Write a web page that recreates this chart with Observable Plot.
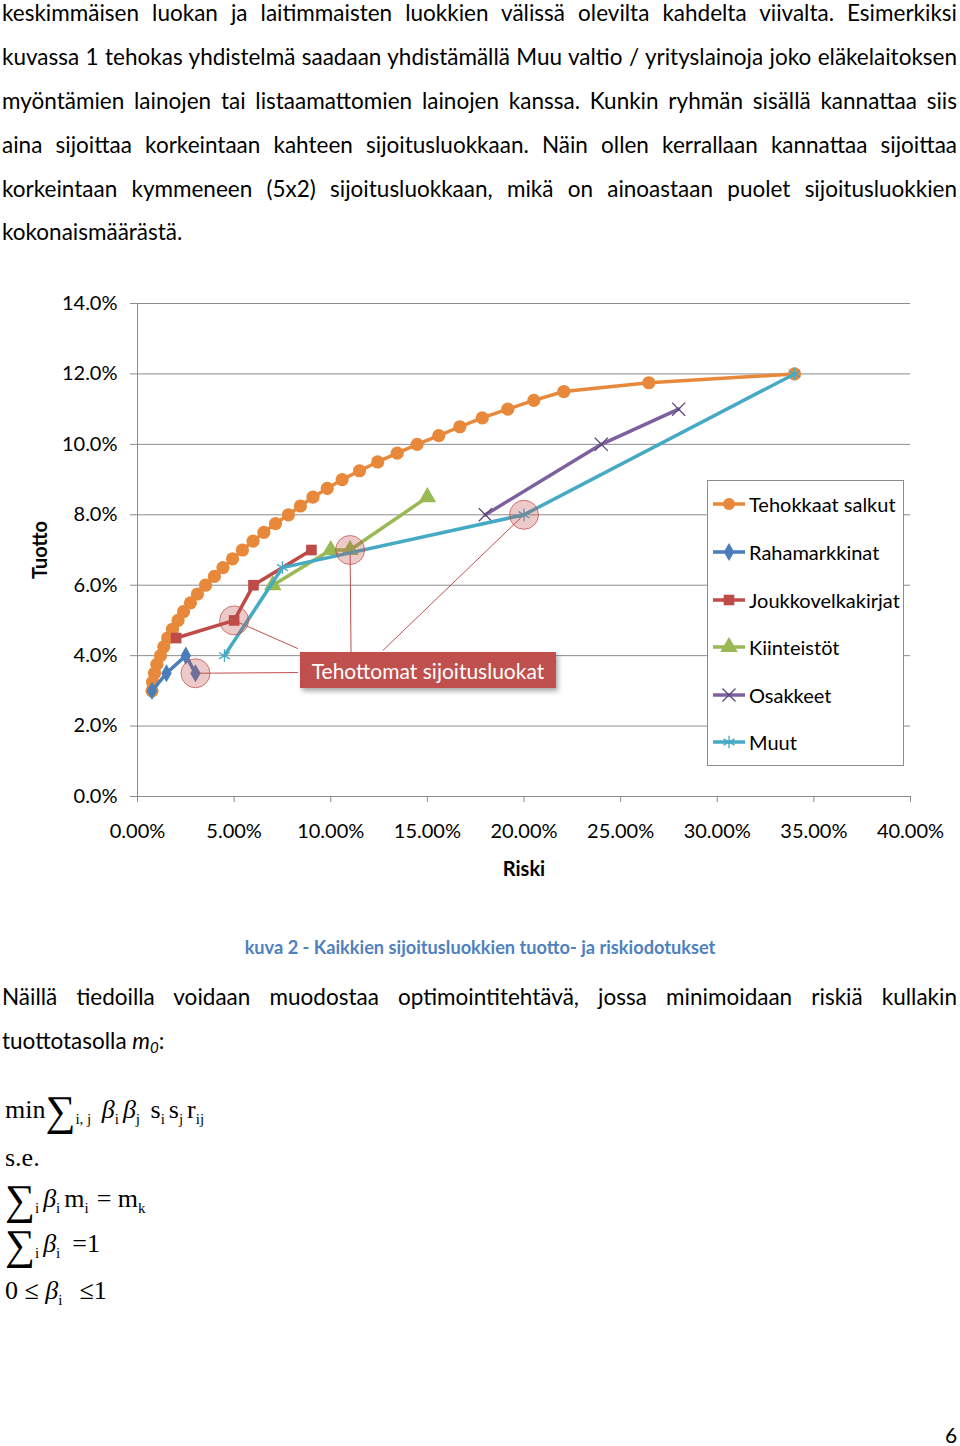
<!DOCTYPE html>
<html><head><meta charset="utf-8">
<script src="https://cdn.jsdelivr.net/npm/d3@7"></script>
<script src="https://cdn.jsdelivr.net/npm/@observablehq/plot@0.6"></script>
<style>
html,body{margin:0;padding:0;background:#fff;}
#page{position:relative;width:960px;height:1446px;overflow:hidden;font-family:Lato,sans-serif;color:#000;}
.j{position:absolute;left:2px;width:955px;text-align:justify;text-align-last:justify;line-height:1.2;font-size:22.5px;}
.l{position:absolute;left:2px;line-height:1.2;font-size:22.5px;white-space:nowrap;}
#chart{position:absolute;left:0;top:283px;}
#legend{position:absolute;left:707px;top:480px;width:195px;height:284px;border:1px solid #8c8c8c;background:#fff;}
.lg{position:absolute;left:4px;height:30px;display:flex;align-items:center;font-size:20px;white-space:nowrap;}
.lg svg{margin-right:3px;}
#callout{position:absolute;left:300px;top:652px;width:256px;height:36px;background:#C0504D;color:#fff;font-size:21px;display:flex;align-items:center;justify-content:center;box-shadow:2px 3px 5px rgba(0,0,0,0.35);}
#caption{position:absolute;left:0;width:960px;text-align:center;font-weight:bold;color:#4F81BD;font-size:18.2px;line-height:1.2;}
.f{position:absolute;left:5px;font-family:"Liberation Serif",serif;font-size:26px;line-height:1.2;white-space:nowrap;}
.f .sig{font-size:42px;position:relative;top:7px;line-height:0;}
.f sub{font-size:15px;vertical-align:-6px;line-height:0;margin-right:4px;}
.f i{font-style:italic;}
.f .gap{display:inline-block;}
#pnum{position:absolute;left:945px;font-size:21px;line-height:1.2;}
</style>
</head><body>
<div id="page"></div>
<script>
// ---------- data ----------
const xTicks = [0, 5, 10, 15, 20, 25, 30, 35, 40];
const yTicks = [0, 2, 4, 6, 8, 10, 12, 14];

const seriesNames = ["Tehokkaat salkut", "Rahamarkkinat", "Joukkovelkakirjat", "Kiinteistöt", "Osakkeet", "Muut"];
const seriesColors = ["#E8883A", "#4A7EBB", "#BE4B48", "#98B954", "#7D60A0", "#46AAC5"];
const seriesSymbols = ["circle", "diamond", "square", "triangle", "times", "asterisk"];

// Tehokkaat salkut (efficient frontier)
const frontierRisk = [0.75, 0.78, 0.88, 1.0, 1.19, 1.36, 1.56, 1.81, 2.1, 2.38, 2.74, 3.1, 3.52, 3.98, 4.42, 4.92, 5.43, 5.98, 6.54, 7.14, 7.81, 8.43, 9.08, 9.82, 10.59, 11.49, 12.43, 13.44, 14.47, 15.59, 16.68, 17.84, 19.16, 20.51, 22.06, 26.46, 34.0];
const frontierReturn = [3.0, 3.25, 3.5, 3.75, 4.0, 4.25, 4.5, 4.75, 5.0, 5.25, 5.5, 5.75, 6.0, 6.25, 6.5, 6.75, 7.0, 7.25, 7.5, 7.75, 8.0, 8.25, 8.5, 8.75, 9.0, 9.25, 9.5, 9.75, 10.0, 10.25, 10.5, 10.75, 11.0, 11.25, 11.5, 11.75, 12.0];
// Rahamarkkinat
const rahaRisk = [0.75, 1.5, 2.5, 3.0];
const rahaReturn = [3.0, 3.5, 4.0, 3.5];
// Joukkovelkakirjat
const jvkRisk = [2.0, 5.0, 6.0, 9.0];
const jvkReturn = [4.5, 5.0, 6.0, 7.0];
// Kiinteistöt
const kiinRisk = [7.0, 10.0, 11.0, 15.0];
const kiinReturn = [6.0, 7.0, 7.0, 8.5];
// Osakkeet
const osakRisk = [18.0, 24.0, 28.0];
const osakReturn = [8.0, 10.0, 11.0];
// Muut
const muutRisk = [4.5, 7.5, 20.0, 34.0];
const muutReturn = [4.0, 6.5, 8.0, 12.0];

// inefficient classes (highlighted) and callout anchors
const ineffRisk = [3.0, 5.0, 11.0, 20.0];
const ineffReturn = [3.5, 5.0, 7.0, 8.0];
const calloutRisk = [8.3, 8.3, 11.05, 12.7];
const calloutReturn = [3.52, 4.2, 4.1, 4.15];
const calloutText = "Tehottomat sijoitusluokat";

const xLabel = "Riski";
const yLabel = "Tuotto";

// page texts
const para1 = [
  "keskimmäisen luokan ja laitimmaisten luokkien välissä olevilta kahdelta viivalta. Esimerkiksi",
  "kuvassa 1 tehokas yhdistelmä saadaan yhdistämällä Muu valtio / yrityslainoja joko eläkelaitoksen",
  "myöntämien lainojen tai listaamattomien lainojen kanssa. Kunkin ryhmän sisällä kannattaa siis",
  "aina sijoittaa korkeintaan kahteen sijoitusluokkaan. Näin ollen kerrallaan kannattaa sijoittaa",
  "korkeintaan kymmeneen (5x2) sijoitusluokkaan, mikä on ainoastaan puolet sijoitusluokkien",
  "kokonaismäärästä."
];
const captionText = "kuva 2 - Kaikkien sijoitusluokkien tuotto- ja riskiodotukset";
const para2 = "Näillä tiedoilla voidaan muodostaa optimointitehtävä, jossa minimoidaan riskiä kullakin";
const pageNumber = "6";

// ---------- build ----------
const page = document.getElementById("page");
const LATO_ASC = 0.987;
const PFS = 22.5;
const paraBase = [21, 65, 109, 153, 197, 240];
para1.forEach((t, i) => {
  const d = document.createElement("div");
  d.className = i < para1.length - 1 ? "j" : "l";
  d.textContent = t;
  d.style.top = (paraBase[i] - LATO_ASC * PFS) + "px";
  page.appendChild(d);
});

// chart
const seriesRisk = [frontierRisk, rahaRisk, jvkRisk, kiinRisk, osakRisk, muutRisk];
const seriesReturn = [frontierReturn, rahaReturn, jvkReturn, kiinReturn, osakReturn, muutReturn];
const seriesMarks = [];
seriesNames.forEach((name, s) => {
  const rows = seriesRisk[s].map((r, i) => ({series: name, risk: r, ret: seriesReturn[s][i]}));
  const col = seriesColors[s];
  const sym = seriesSymbols[s];
  seriesMarks.push(Plot.line(rows, {x: "risk", y: "ret", stroke: col, strokeWidth: 3.5}));
  if (sym === "times") {
    seriesMarks.push(Plot.dot(rows, {x: "risk", y: "ret", symbol: sym, r: 6, stroke: "#5a4878", strokeWidth: 1.3}));
  } else if (sym === "asterisk") {
    seriesMarks.push(Plot.dot(rows, {x: "risk", y: "ret", symbol: sym, r: 6, stroke: col, strokeWidth: 1.3}));
  } else {
    const rr = sym === "circle" ? 6.6 : sym === "square" ? 6 : sym === "triangle" ? 6.5 : 5.5;
    seriesMarks.push(Plot.dot(rows, {x: "risk", y: "ret", symbol: sym, r: rr, fill: col, stroke: "none"}));
  }
});
const ineff = ineffRisk.map((r, i) => ({risk: r, ret: ineffReturn[i]}));
const callouts = calloutRisk.map((r, i) => ({x1: r, y1: calloutReturn[i], x2: ineffRisk[i], y2: ineffReturn[i]}));

const chart = Plot.plot({
  width: 960, height: 600,
  marginTop: 20, marginBottom: 87, marginLeft: 137, marginRight: 50,
  style: {fontFamily: "Lato, sans-serif", fontSize: "20px", color: "#000", background: "transparent", overflow: "visible"},
  x: {domain: [0, 40], label: null},
  y: {domain: [0, 14], label: null},
  marks: [
    Plot.ruleY(yTicks, {stroke: "#8c8c8c", strokeWidth: 1}),
    Plot.ruleX([0], {stroke: "#8c8c8c", strokeWidth: 1}),
    Plot.axisY(yTicks, {tickSize: 7, tickPadding: 13, stroke: "#8c8c8c", fill: "#000", tickFormat: d => d.toFixed(1) + "%", label: null}),
    Plot.axisX(xTicks, {tickSize: 6, tickPadding: 21, stroke: "#8c8c8c", fill: "#000", tickFormat: d => d.toFixed(2) + "%", label: null}),
    Plot.link(callouts, {x1: "x1", y1: "y1", x2: "x2", y2: "y2", stroke: "#C0504D", strokeWidth: 1}),
    ...seriesMarks,
    Plot.dot(ineff, {x: "risk", y: "ret", r: 14.5, fill: "#C0504D", fillOpacity: 0.3, stroke: "#C0504D", strokeOpacity: 0.75, strokeWidth: 1}),
    Plot.text([xLabel], {frameAnchor: "bottom", lineAnchor: "middle", textAnchor: "middle", dy: 73, fontWeight: "bold", fontSize: 20}),
    Plot.text([yLabel], {frameAnchor: "left", lineAnchor: "middle", textAnchor: "middle", dx: -97, rotate: -90, fontWeight: "bold", fontSize: 20})
  ]
});
chart.id = "chart";
page.appendChild(chart);

// legend
const legend = document.createElement("div");
legend.id = "legend";
const rowCenters = [503, 551, 599, 646, 694, 741];
const symMap = {circle: d3.symbolCircle, diamond: d3.symbolDiamond, square: d3.symbolSquare, triangle: d3.symbolTriangle, times: d3.symbolTimes, asterisk: d3.symbolAsterisk};
seriesNames.forEach((name, s) => {
  const row = document.createElement("div");
  row.className = "lg";
  row.style.top = (rowCenters[s] - 480 - 15) + "px";
  const sym = seriesSymbols[s];
  const rr = sym === "triangle" ? 6.5 : sym === "diamond" ? 5.5 : 6;
  const path = d3.symbol(symMap[sym], Math.PI * rr * rr)();
  const strokeSym = sym === "times" || sym === "asterisk";
  const symColor = sym === "times" ? "#5a4878" : seriesColors[s];
  row.innerHTML = `<svg width="34" height="20"><line x1="1" x2="33" y1="10" y2="10" stroke="${seriesColors[s]}" stroke-width="3.5"/>` +
    `<path transform="translate(17,10)" d="${path}" ${strokeSym ? `fill="none" stroke="${symColor}" stroke-width="1.3"` : `fill="${seriesColors[s]}"`}/></svg><span>${name}</span>`;
  legend.appendChild(row);
});
page.appendChild(legend);

const callout = document.createElement("div");
callout.id = "callout";
callout.textContent = calloutText;
page.appendChild(callout);

// caption
const cap = document.createElement("div");
cap.id = "caption";
cap.textContent = captionText;
cap.style.top = (955 - LATO_ASC * 18.2) + "px";
page.appendChild(cap);

// second paragraph
const p2 = document.createElement("div");
p2.className = "j";
p2.textContent = para2;
p2.style.top = (1005 - LATO_ASC * PFS) + "px";
page.appendChild(p2);
const p3 = document.createElement("div");
p3.className = "l";
p3.innerHTML = 'tuottotasolla <i>m<sub style="font-size:15px;vertical-align:-4px;line-height:0">0</sub></i>:';
p3.style.top = (1049 - LATO_ASC * PFS) + "px";
page.appendChild(p3);

// formulas
const SER_ASC = 0.9375;
const formulas = [
  ['min<span class="sig">∑</span><sub>i, j</sub> <i>β</i><sub>i</sub><i>β</i><sub>j</sub> s<sub>i</sub>s<sub>j</sub>r<sub>ij</sub>', 1118],
  ['s.e.', 1166],
  ['<span class="sig">∑</span><sub>i</sub><i>β</i><sub>i</sub>m<sub>i</sub><span class="gap" style="width:4px"></span>= m<sub>k</sub>', 1207],
  ['<span class="sig">∑</span><sub>i</sub><i>β</i><sub>i</sub><span class="gap" style="width:8px"></span>=1', 1252],
  ['0 ≤ <i>β</i><sub>i</sub> &nbsp;≤1', 1299]
];
formulas.forEach(([html, base]) => {
  const d = document.createElement("div");
  d.className = "f";
  d.innerHTML = html;
  d.style.top = (base - SER_ASC * 26) + "px";
  page.appendChild(d);
});

const pn = document.createElement("div");
pn.id = "pnum";
pn.textContent = pageNumber;
pn.style.top = (1443 - LATO_ASC * 21) + "px";
page.appendChild(pn);
</script>
</body></html>
